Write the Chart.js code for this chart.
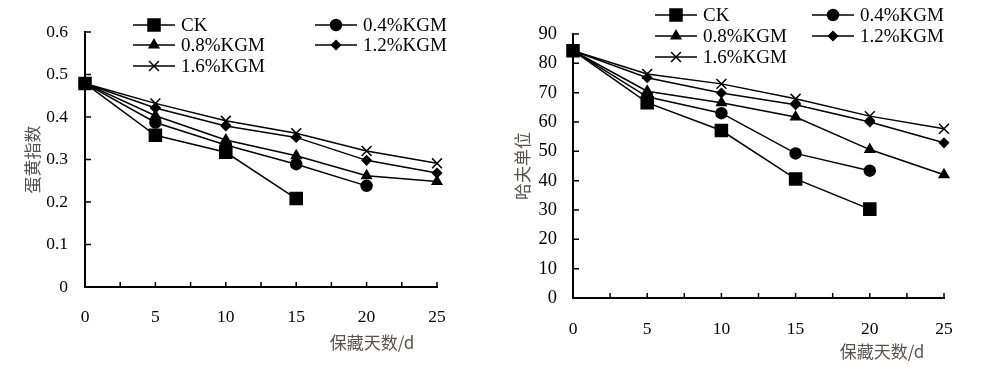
<!DOCTYPE html>
<html>
<head>
<meta charset="utf-8">
<script src="https://cdn.jsdelivr.net/npm/chart.js@4/dist/chart.umd.min.js"></script>
<style>
  body { margin: 0; background: #fff; }
  .box { position: absolute; top: 0; width: 500px; height: 367px; }
</style>
</head>
<body>
<div class="box" style="left:0"><canvas id="yolk" width="500" height="367"></canvas></div>
<div class="box" style="left:500px"><canvas id="haugh" width="500" height="367"></canvas></div>
<script>
// storage days
const days = [0, 5, 10, 15, 20, 25];
const seriesNames = ['CK', '0.4%KGM', '0.8%KGM', '1.2%KGM', '1.6%KGM'];

// 蛋黄指数
const yolkCK = [0.479, 0.357, 0.317, 0.208];
const yolk04 = [0.479, 0.387, 0.334, 0.289, 0.238];
const yolk08 = [0.479, 0.403, 0.346, 0.309, 0.262, 0.248];
const yolk12 = [0.479, 0.421, 0.379, 0.352, 0.298, 0.268];
const yolk16 = [0.479, 0.432, 0.391, 0.362, 0.320, 0.291];

// 哈夫单位
const haughCK = [84.3, 66.6, 57.1, 40.6, 30.3];
const haugh04 = [84.3, 68.6, 63.0, 49.3, 43.4];
const haugh08 = [84.3, 70.5, 66.6, 61.7, 50.6, 42.0];
const haugh12 = [84.3, 75.1, 69.9, 65.9, 60.0, 52.9];
const haugh16 = [84.3, 76.4, 73.0, 67.9, 62.0, 57.7];

const serif = '"Liberation Serif", "Times New Roman", serif';
Chart.defaults.font.family = serif;
Chart.defaults.color = '#000';

const markers = [
  { pointStyle: 'rect', radius: 8.5 },
  { pointStyle: 'circle', radius: 5.5 },
  { pointStyle: 'triangle', radius: 5.5 },
  { pointStyle: 'rectRot', radius: 4.5 },
  { pointStyle: 'crossRot', radius: 7 }
];

function makeSets(lists) {
  return lists.map((vals, i) => ({
    label: seriesNames[i],
    data: vals.map((v, j) => ({ x: days[j], y: v })),
    borderColor: '#000',
    backgroundColor: '#000',
    borderWidth: 1.5,
    pointStyle: markers[i].pointStyle,
    pointRadius: markers[i].radius,
    pointBorderWidth: 1.5,
    tension: 0,
    clip: false
  }));
}

// inward tick marks, legend and x title drawn by hand
const decor = {
  id: 'decor',
  beforeDatasetsDraw(chart) {
    const ctx = chart.ctx;
    const xs = chart.scales.x, ys = chart.scales.y;
    const a = chart.chartArea;
    ctx.save();
    ctx.strokeStyle = '#000';
    ctx.lineWidth = 1.5;
    ctx.beginPath();
    xs.ticks.forEach(t => {
      if (t.value === 0) return;
      const px = xs.getPixelForValue(t.value);
      ctx.moveTo(px, a.bottom);
      ctx.lineTo(px, a.bottom - 5);
    });
    ys.ticks.forEach(t => {
      if (t.value === 0) return;
      const py = ys.getPixelForValue(t.value);
      ctx.moveTo(a.left, py);
      ctx.lineTo(a.left + 6, py);
    });
    ctx.stroke();
    ctx.restore();
  },
  afterDraw(chart, args, opts) {
    const ctx = chart.ctx;
    ctx.save();
    chart.data.datasets.forEach((ds, i) => {
      const col = i % 2, row = Math.floor(i / 2);
      const lx = opts.cols[col], ly = opts.rows[row];
      ctx.strokeStyle = '#000';
      ctx.lineWidth = 1.5;
      ctx.beginPath();
      ctx.moveTo(lx, ly);
      ctx.lineTo(lx + 42, ly);
      ctx.stroke();
      ctx.fillStyle = '#000';
      Chart.helpers.drawPoint(ctx, {
        pointStyle: ds.pointStyle, radius: ds.pointRadius,
        borderWidth: 1.5, rotation: 0
      }, lx + 21, ly);
      ctx.font = '19px ' + serif;
      ctx.textAlign = 'left';
      ctx.textBaseline = 'middle';
      ctx.fillText(ds.label, lx + 48, ly + 1);
    });
    ctx.fillStyle = '#5a5050';
    ctx.font = '17px "Noto Sans CJK SC", sans-serif';
    ctx.textAlign = 'center';
    ctx.textBaseline = 'middle';
    ctx.fillText('保藏天数/d', opts.titleX, opts.titleY);
    ctx.restore();
  }
};

function makeChart(id, lists, yMax, yStep, yTitle, g) {
  return new Chart(document.getElementById(id), {
    type: 'line',
    data: { datasets: makeSets(lists) },
    options: {
      responsive: false,
      animation: false,
      layout: { padding: { left: 0, top: g.top, right: g.right, bottom: 0 } },
      plugins: {
        legend: { display: false },
        tooltip: { enabled: false },
        decor: g.decor
      },
      scales: {
        x: {
          type: 'linear', min: 0, max: 25,
          grid: { display: false, drawTicks: false },
          border: { display: true, color: '#000', width: 2 },
          ticks: {
            stepSize: 2.5, padding: g.xPad, maxRotation: 0, autoSkip: false,
            font: { size: 17.5 },
            callback: v => (v % 5 === 0 ? String(v) : '')
          },
          afterFit: s => { s.height = g.xHeight; }
        },
        y: {
          min: 0, max: yMax,
          grid: { display: false, drawTicks: false },
          border: { display: true, color: '#000', width: 2 },
          ticks: { stepSize: yStep, padding: g.yPad, font: { size: g.yFont } },
          title: {
            display: true, text: yTitle, color: '#5a5050',
            font: { family: '"Noto Sans CJK SC", sans-serif', size: 17 },
            padding: { top: g.titlePad, bottom: 0 }
          },
          afterFit: s => { s.width = g.yWidth; }
        }
      }
    },
    plugins: [decor]
  });
}

makeChart('yolk', [yolkCK, yolk04, yolk08, yolk12, yolk16], 0.6, 0.1, '蛋黄指数', {
  top: 32, right: 63, xHeight: 80, yWidth: 85, xPad: 20, yPad: 17, yFont: 17.5, titlePad: 22,
  decor: { cols: [133, 315], rows: [25, 45, 66], titleX: 372, titleY: 343 }
});

makeChart('haugh', [haughCK, haugh04, haugh08, haugh12, haugh16], 90, 10, '哈夫单位', {
  top: 34, right: 56, xHeight: 69, yWidth: 73, xPad: 21, yPad: 16, yFont: 18.5, titlePad: 12,
  decor: { cols: [155, 312], rows: [15, 36, 57], titleX: 382, titleY: 352 }
});
</script>
</body>
</html>
